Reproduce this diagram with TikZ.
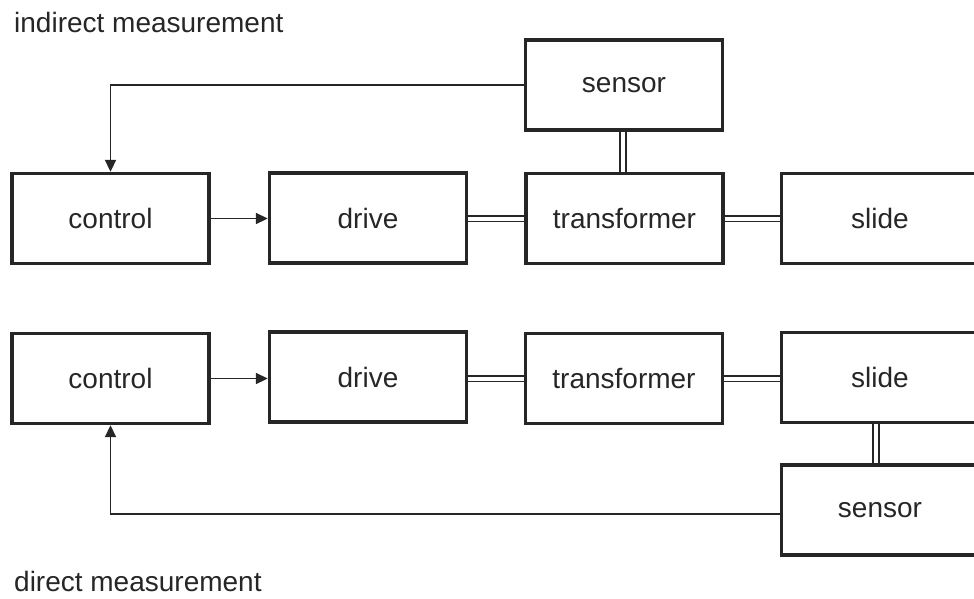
\documentclass[tikz,border=0pt]{standalone}
\usepackage{fontspec}
\setmainfont{Liberation Sans}
\usetikzlibrary{arrows.meta}
\definecolor{ink}{HTML}{262626}
\begin{document}
\begin{tikzpicture}[x=1pt,y=-1pt,
  box/.style={draw=ink, line width=3.4pt, minimum width=197pt, minimum height=90pt,
    inner sep=0pt, font=\fontsize{28}{32}\selectfont, text=ink},
  lbl/.style={anchor=base west, inner sep=0pt, font=\fontsize{28}{32}\selectfont, text=ink},
  sig/.style={draw=ink, line width=1.9pt, -{Triangle[length=12pt,width=11pt]}},
  dbl/.style={draw=ink, line width=1.7pt, double=white, double distance=4pt}]
\useasboundingbox (0,0) rectangle (974,598);
\clip (0,0) rectangle (974,598);
% labels
\node[lbl] (t1) at (14,32) {indirect measurement};
\node[lbl] (t2) at (14,591) {direct measurement};
% indirect measurement
\node[box] (c1) at (110.5,218.5) {control};
\node[box] (d1) at (368,218) {drive};
\node[box] (tr1) at (624.5,218.5) {transformer};
\node[box] (s1) at (880,218.5) {slide};
\node[box] (se1) at (624,85) {sensor};
\draw[sig] (se1.west) -| (c1.north);
\draw[sig] (c1.east) -- (d1.west |- c1.east);
\draw[dbl] (d1.east |- tr1.west) -- (tr1.west);
\draw[dbl] (tr1.east) -- (s1.west);
\draw[dbl] ([xshift=-1pt]se1.south) -- ([xshift=-1pt]se1.south |- tr1.north);
% direct measurement
\node[box] (c2) at (110.5,378.5) {control};
\node[box] (d2) at (368,377) {drive};
\node[box] (tr2) at (624,378.5) {transformer};
\node[box] (s2) at (880,377.5) {slide};
\node[box] (se2) at (880,510) {sensor};
\draw[sig] (c2.east) -- (d2.west |- c2.east);
\draw[dbl] (d2.east |- tr2.west) -- (tr2.west);
\draw[dbl] (tr2.east) -- (s2.west |- tr2.east);
\draw[dbl] ([xshift=-4pt]s2.south) -- ([xshift=-4pt]s2.south |- se2.north);
\draw[sig] ([yshift=-4pt]se2.west) -| (c2.south);
\end{tikzpicture}
\end{document}
